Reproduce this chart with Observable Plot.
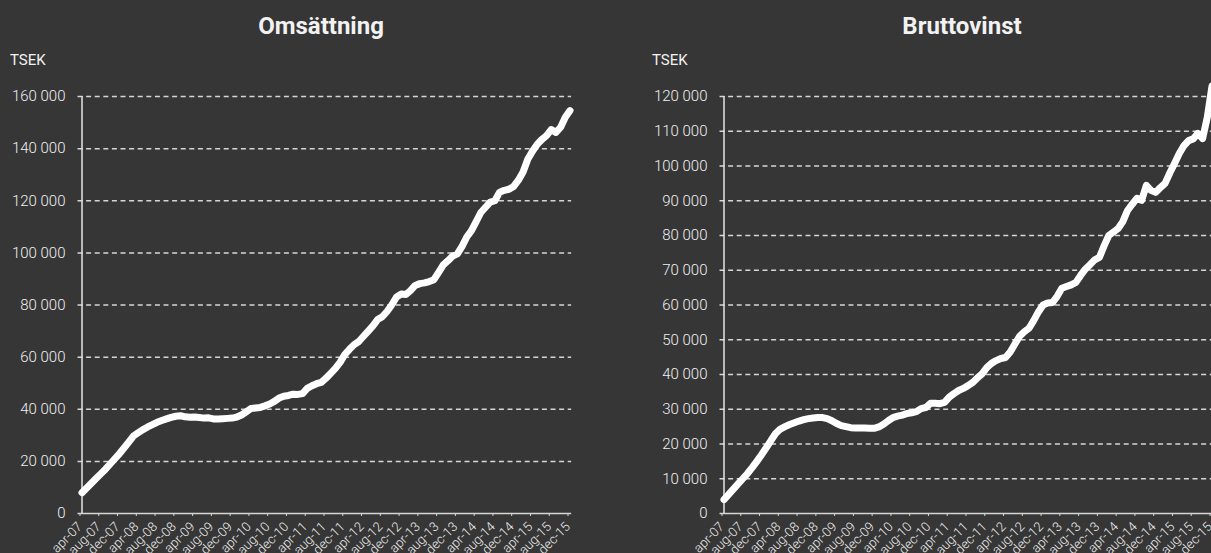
<!DOCTYPE html>
<html><head><meta charset="utf-8">
<script src="https://cdn.jsdelivr.net/npm/d3@7"></script>
<script src="https://cdn.jsdelivr.net/npm/@observablehq/plot@0.6"></script>
<style>
html,body{margin:0;padding:0;background:#363636;overflow:hidden;}
#root{position:relative;width:1211px;height:553px;overflow:hidden;font-family:Roboto,sans-serif;color:#f2f2f2;}
.title{position:absolute;top:12px;font-size:24px;font-weight:700;transform:translateX(-50%);white-space:nowrap;}
.unit{position:absolute;top:51px;font-size:15px;}
.chart{position:absolute;top:0;}
</style></head><body><div id="root"></div>
<script>
const tickLabels = ["apr-07","aug-07","dec-07","apr-08","aug-08","dec-08","apr-09","aug-09","dec-09",
  "apr-10","aug-10","dec-10","apr-11","aug-11","dec-11","apr-12","aug-12","dec-12",
  "apr-13","aug-13","dec-13","apr-14","aug-14","dec-14","apr-15","aug-15","dec-15"];

// Monthly values, apr-07 .. dec-15 (TSEK)
const omsattning = [8000,9800,11600,13400,15200,17000,19000,21000,23000,25200,27500,29800,
  31000,32200,33200,34100,35000,35700,36300,36900,37300,37500,37100,36900,37000,36800,
  36600,36700,36300,36300,36400,36500,36600,37000,37800,39000,40300,40500,40700,41300,
  42000,43000,44300,45000,45300,45800,45700,46000,48000,49000,49800,50300,51900,53800,
  55700,58000,61000,63000,64800,66000,68000,70000,72000,74400,75500,77500,80000,83000,
  84200,84000,85500,87500,88200,88500,89000,89700,92500,95400,97000,98800,99600,102500,
  106100,108500,112000,115500,117500,119500,120000,123300,124000,124400,125500,127900,
  131000,135900,139000,141600,143500,145000,147300,146200,148200,152000,154600];

const bruttovinst = [4000,5500,7000,8500,10000,11500,13200,15000,16900,18900,21000,23000,
  24300,25000,25600,26100,26600,27000,27300,27500,27600,27600,27300,26700,25900,25300,
  25000,24700,24600,24600,24600,24500,24500,24900,25700,26700,27600,28000,28300,28800,
  29000,29300,30200,30500,31700,31700,31600,32000,33500,34500,35400,36000,36800,37700,
  39000,40200,42000,43200,44000,44600,44900,46500,48800,51000,52300,53300,55500,58000,
  60000,60600,60700,62500,64800,65300,65800,66500,68500,70300,71600,73000,73700,77000,
  80000,81000,82000,84000,87200,89000,90700,90100,94400,93000,92400,93800,95000,98000,
  100700,103500,105800,107300,107800,109400,107900,114000,123000];

const titles = ["Omsättning", "Bruttovinst"];
const unitLabel = "TSEK";
const yTicksOms = [0,20000,40000,60000,80000,100000,120000,140000,160000];
const yTicksBrutto = [0,10000,20000,30000,40000,50000,60000,70000,80000,90000,100000,110000,120000];

const fmt = d3.formatLocale({thousands:"\u00a0", grouping:[3], decimal:",", currency:["",""]}).format(",");
const root = document.getElementById("root");

function panel(values, yTicks, left, titleX, unitX, title) {
  const n = values.length - 1;
  const yMax = yTicks[yTicks.length - 1];
  const chart = Plot.plot({
    width: 600, height: 553,
    marginLeft: 82, marginRight: 30, marginTop: 96, marginBottom: 40,
    style: {background: "transparent", color: "#f0f0f0", fontFamily: "Roboto, sans-serif", fontSize: "15px", overflow: "visible"},
    x: {domain: [0, n], range: [81.5, 569.5]},
    y: {domain: [0, yMax], range: [513, 96]},
    marks: [
      Plot.ruleY(yTicks.filter(v => v > 0), {x1: () => -0.85, x2: () => n + 0.35, stroke: "#d6d6d6", strokeWidth: 1.5, strokeDasharray: "5,3.6"}),
      Plot.ruleY([0], {x1: () => -0.85, x2: () => n + 0.35, stroke: "#d6d6d6", strokeWidth: 1.5}),
      Plot.ruleX([0], {y1: () => 0, y2: () => yMax, stroke: "#e6e6e6", strokeWidth: 1.5}),
      Plot.axisY({ticks: yTicks, tickSize: 0, tickPadding: 17, tickFormat: fmt, label: null, fontSize: 15, fontWeight: 300}),
      Plot.axisX({ticks: tickLabels.map((_, k) => 4 * k), tickSize: 3, tickPadding: 8, tickRotate: -45,
        tickFormat: i => tickLabels[i / 4], label: null, fontSize: 13, fontWeight: 300, dx: -2, stroke: "#d6d6d6"}),
      Plot.lineY(values, {x: (d, i) => i, y: d => d, stroke: "#ffffff", strokeWidth: 7, strokeLinejoin: "round", strokeLinecap: "round"})
    ]
  });
  chart.classList.add("chart");
  chart.style.left = left + "px";
  root.appendChild(chart);
  const t = document.createElement("div");
  t.className = "title"; t.textContent = title; t.style.left = titleX + "px";
  root.appendChild(t);
  const u = document.createElement("div");
  u.className = "unit"; u.textContent = unitLabel; u.style.left = unitX + "px";
  root.appendChild(u);
}

panel(omsattning, yTicksOms, 0, 321, 10, titles[0]);
panel(bruttovinst, yTicksBrutto, 642, 962, 652, titles[1]);
</script></body></html>
